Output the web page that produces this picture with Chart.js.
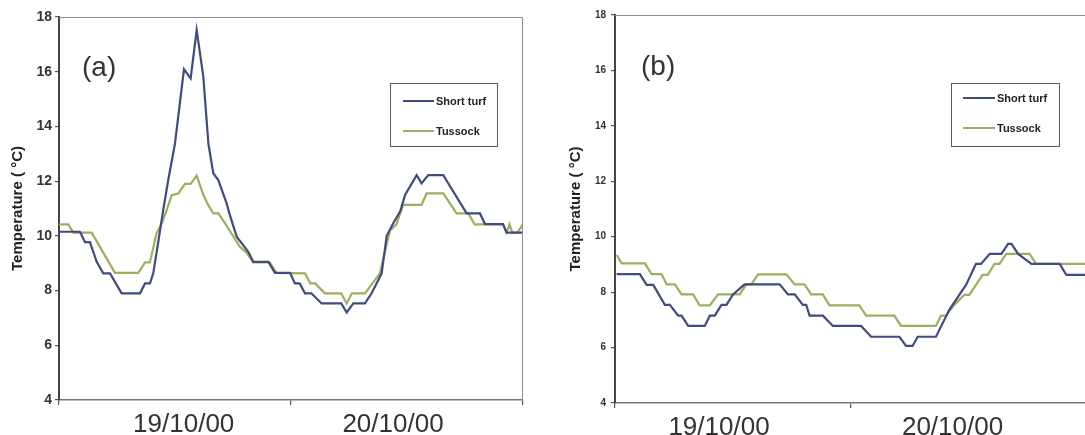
<!DOCTYPE html>
<html lang="en">
<head>
<meta charset="UTF-8">
<title>Soil surface temperature - short turf vs tussock</title>
<script src="https://cdn.jsdelivr.net/npm/chart.js"></script>
<style>
  html, body { margin: 0; padding: 0; background: #fff; overflow: hidden; }
  .panel { position: absolute; top: 0; }
  #panelA { left: 0; width: 540px; }
  #panelB { left: 540px; width: 550px; }
</style>
</head>
<body>
<div class="panel" id="panelA"><canvas id="chartA" width="540" height="435"></canvas></div>
<div class="panel" id="panelB"><canvas id="chartB" width="550" height="435"></canvas></div>
<script>
// hours from the start of the record, and temperature (°C)
const turfHoursA = [0, 2.17, 2.69, 3.2, 3.9, 4.58, 5.28, 6.48, 8.38, 8.9, 9.41, 9.75, 10.1, 10.78, 11.3, 12.0, 12.93, 13.62, 14.24, 14.93, 15.45, 15.96, 16.48, 17.34, 17.6, 18.38, 19.58, 20.1, 21.66, 22.34, 23.9, 24.4, 24.9, 25.45, 26.1, 27.17, 29.2, 29.76, 30.45, 31.65, 32.34, 32.85, 33.38, 33.9, 34.56, 35.3, 35.8, 37.0, 37.5, 38.2, 39.75, 42.17, 43.55, 44.07, 45.93, 46.3, 48];
const turfTempA  = [10.15, 10.15, 9.77, 9.77, 9.05, 8.63, 8.63, 7.9, 7.9, 8.26, 8.26, 8.63, 9.4, 10.94, 12.04, 13.38, 16.09, 15.76, 17.52, 15.82, 13.38, 12.29, 12.04, 11.19, 10.85, 9.97, 9.42, 9.05, 9.05, 8.65, 8.65, 8.26, 8.26, 7.9, 7.9, 7.53, 7.53, 7.2, 7.53, 7.53, 7.9, 8.26, 8.63, 10.0, 10.45, 10.9, 11.5, 12.22, 11.92, 12.22, 12.22, 10.82, 10.82, 10.43, 10.43, 10.12, 10.12];

const tussHoursA = [0, 0.96, 1.48, 3.38, 5.79, 8.2, 8.9, 9.4, 10.1, 10.62, 11.1, 11.66, 12.34, 13.03, 13.62, 14.24, 14.93, 15.4, 15.96, 16.48, 17.2, 18.72, 19.41, 20.1, 21.8, 22.5, 25.45, 26.0, 26.5, 27.5, 29.2, 29.76, 30.3, 31.65, 33.2, 34.24, 34.9, 35.6, 37.5, 38.03, 39.75, 41.13, 42.34, 43.0, 45.93, 46.3, 46.6, 46.9, 47.4, 48];
const tussTempA  = [10.42, 10.42, 10.12, 10.12, 8.65, 8.65, 9.03, 9.03, 10.1, 10.45, 10.9, 11.49, 11.55, 11.9, 11.9, 12.2, 11.5, 11.15, 10.82, 10.82, 10.45, 9.6, 9.38, 9.03, 9.03, 8.65, 8.63, 8.26, 8.26, 7.9, 7.9, 7.53, 7.9, 7.9, 8.63, 10.2, 10.42, 11.13, 11.13, 11.55, 11.55, 10.82, 10.82, 10.42, 10.42, 10.12, 10.42, 10.12, 10.12, 10.42];

const turfHoursB = [0.17, 2.54, 3.22, 3.9, 5.08, 5.59, 6.44, 6.78, 7.46, 9.15, 9.66, 10.17, 10.85, 11.36, 12.03, 13.2, 16.78, 17.63, 18.31, 19.15, 19.49, 19.83, 21.19, 22.2, 25.08, 26.1, 28.98, 29.66, 30.33, 30.84, 32.71, 34.07, 35.77, 36.79, 37.3, 38.19, 39.38, 40.06, 40.41, 41.08, 42.44, 45.32, 46.0, 48];
const turfTempB  = [8.65, 8.65, 8.26, 8.26, 7.54, 7.54, 7.15, 7.15, 6.78, 6.78, 7.15, 7.15, 7.54, 7.54, 7.92, 8.28, 8.28, 7.92, 7.92, 7.54, 7.54, 7.15, 7.15, 6.78, 6.78, 6.39, 6.39, 6.06, 6.06, 6.39, 6.39, 7.36, 8.26, 9.02, 9.02, 9.38, 9.38, 9.74, 9.74, 9.38, 9.02, 9.02, 8.62, 8.62];

const tussHoursB = [0.17, 0.68, 3.05, 3.73, 4.75, 5.26, 6.1, 6.78, 7.96, 8.64, 9.66, 10.5, 12.71, 13.39, 13.9, 14.58, 17.46, 18.31, 19.32, 19.99, 21.17, 21.86, 24.9, 25.6, 28.47, 29.15, 32.71, 33.22, 33.73, 34.58, 35.6, 36.1, 36.79, 37.47, 37.98, 38.68, 39.19, 39.87, 42.24, 42.92, 48];
const tussTempB  = [9.34, 9.04, 9.04, 8.65, 8.65, 8.28, 8.28, 7.92, 7.92, 7.52, 7.52, 7.92, 7.92, 8.28, 8.28, 8.64, 8.64, 8.28, 8.28, 7.92, 7.92, 7.52, 7.52, 7.15, 7.15, 6.78, 6.78, 7.15, 7.15, 7.54, 7.9, 7.9, 8.26, 8.62, 8.62, 9.02, 9.02, 9.38, 9.38, 9.02, 9.02];

const yTicks = [4, 6, 8, 10, 12, 14, 16, 18];
const dayLabels = ['19/10/00', '20/10/00'];
const dayLabelHoursA = [12.9, 34.55];
const dayLabelHoursB = [10.6, 34.4];
const seriesNames = ['Short turf', 'Tussock'];

const BLUE = '#414b7d';
const GREEN = '#a1ad5c';
const FONT = '"Liberation Sans", Arial, Helvetica, sans-serif';

const pairs = (xs, ys) => xs.map((x, i) => ({ x: x, y: ys[i] }));

// frame, panel letter and the boxed legend
const panelDecor = {
  id: 'panelDecor',
  afterDraw(chart, args, opts) {
    const ctx = chart.ctx, a = chart.chartArea;
    ctx.save();
    ctx.strokeStyle = '#8c8c8c';
    ctx.lineWidth = 1;
    ctx.beginPath();
    ctx.moveTo(a.left, a.top + 0.5);
    ctx.lineTo(a.right - 0.5, a.top + 0.5);
    if (opts.rightEdge) ctx.lineTo(a.right - 0.5, a.bottom);
    ctx.stroke();

    ctx.fillStyle = '#333';
    ctx.font = '28px ' + FONT;
    ctx.textBaseline = 'middle';
    ctx.fillText(opts.letter, opts.letterX, opts.letterY);

    const b = opts.legend;
    ctx.strokeStyle = '#5a5a5a';
    ctx.lineWidth = 1;
    ctx.strokeRect(b.x + 0.5, b.y + 0.5, b.w, b.h);
    chart.data.datasets.forEach((ds, i) => {
      const y = b.y + b.firstRow + i * b.rowGap;
      ctx.strokeStyle = ds.borderColor;
      ctx.lineWidth = 2;
      ctx.beginPath();
      ctx.moveTo(b.x + b.lineStart, y);
      ctx.lineTo(b.x + b.lineStart + b.lineLen, y);
      ctx.stroke();
      ctx.fillStyle = '#222';
      ctx.font = 'bold 11px ' + FONT;
      ctx.fillText(ds.label, b.x + b.lineStart + b.lineLen + 2, y + 1);
    });
    ctx.restore();
  }
};

function makePanel(canvasId, turfH, turfT, tussH, tussT, labelHours, cfg) {
  const tickSet = [0, labelHours[0], 24, labelHours[1], 48];
  const hiddenTicks = cfg.rightEdge ? labelHours : labelHours.concat([48]);
  return new Chart(document.getElementById(canvasId), {
    type: 'line',
    data: {
      datasets: [
        { label: seriesNames[0], data: pairs(turfH, turfT), borderColor: BLUE, borderWidth: 2.2, pointRadius: 0, tension: 0 },
        { label: seriesNames[1], data: pairs(tussH, tussT), borderColor: GREEN, borderWidth: 2.2, pointRadius: 0, tension: 0 }
      ]
    },
    options: {
      responsive: false,
      animation: false,
      layout: { padding: { left: cfg.padLeft, top: cfg.padTop, right: cfg.padRight, bottom: 0 } },
      plugins: {
        legend: { display: false },
        tooltip: { enabled: false },
        panelDecor: cfg.decor
      },
      scales: {
        x: {
          type: 'linear', min: 0, max: 48,
          afterBuildTicks(axis) { axis.ticks = tickSet.map(v => ({ value: v })); },
          afterFit(axis) { axis.height = cfg.xHeight; },
          ticks: {
            autoSkip: false, maxRotation: 0, padding: 4, color: '#333',
            font: { family: FONT, size: 26 },
            callback(v) {
              const k = labelHours.indexOf(v);
              return k >= 0 ? dayLabels[k] : '';
            }
          },
          grid: {
            drawOnChartArea: false, tickLength: 5, lineWidth: 1.2,
            tickColor: (c) => (c.tick && hiddenTicks.indexOf(c.tick.value) >= 0) ? 'rgba(0,0,0,0)' : '#555'
          },
          border: { color: '#777', width: 1.5 }
        },
        y: {
          min: 4, max: 18,
          afterBuildTicks(axis) { axis.ticks = yTicks.map(v => ({ value: v })); },
          afterFit(axis) { axis.width = cfg.yWidth; },
          ticks: { color: '#333', padding: cfg.yPad, font: { family: FONT, size: cfg.yFont, weight: 'bold' } },
          grid: { drawOnChartArea: false, tickLength: 4, lineWidth: 1.2, tickColor: '#555' },
          border: { color: '#444', width: 2 },
          title: {
            display: true, text: 'Temperature ( °C)', color: '#222', padding: 0,
            font: { family: FONT, size: 15, weight: 'bold' }
          }
        }
      }
    },
    plugins: [panelDecor]
  });
}

makePanel('chartA', turfHoursA, turfTempA, tussHoursA, tussTempA, dayLabelHoursA, {
  padLeft: 9, padTop: 17, padRight: 17, xHeight: 35, yWidth: 50, yPad: 3, yFont: 14, rightEdge: true,
  decor: {
    letter: '(a)', letterX: 82, letterY: 68, rightEdge: true,
    legend: { x: 390, y: 83, w: 107, h: 63, lineStart: 13, lineLen: 31, firstRow: 18, rowGap: 30 }
  }
});

makePanel('chartB', turfHoursB, turfTempB, tussHoursB, tussTempB, dayLabelHoursB, {
  padLeft: 27, padTop: 15, padRight: 1, xHeight: 32, yWidth: 48, yPad: 5, yFont: 10, rightEdge: false,
  decor: {
    letter: '(b)', letterX: 101, letterY: 67, rightEdge: false,
    legend: { x: 411, y: 83, w: 108, h: 63, lineStart: 12, lineLen: 32, firstRow: 15, rowGap: 30 }
  }
});
</script>
</body>
</html>
